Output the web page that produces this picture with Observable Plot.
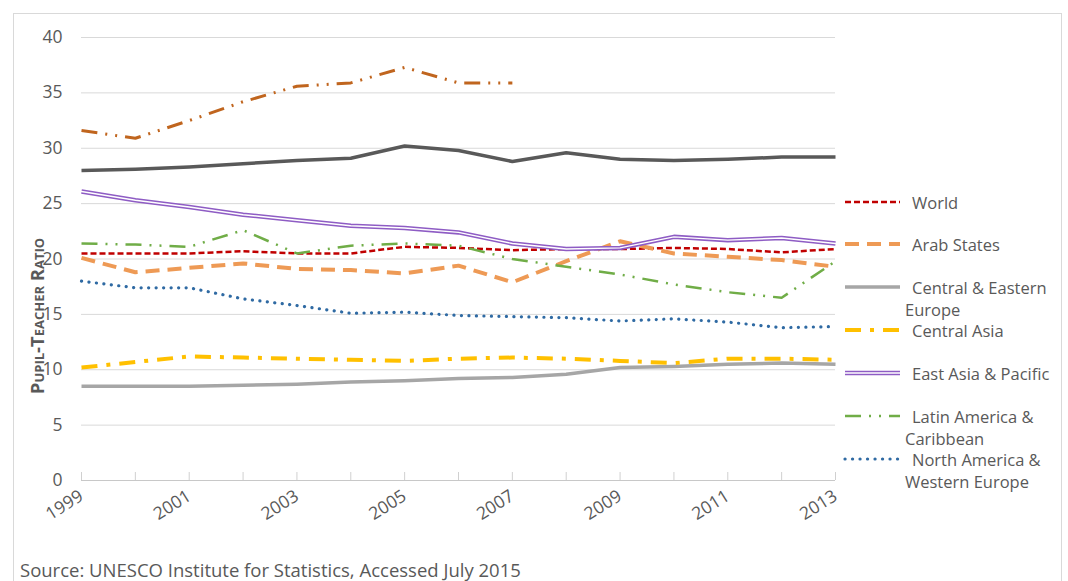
<!DOCTYPE html>
<html>
<head>
<meta charset="utf-8">
<script src="https://cdn.jsdelivr.net/npm/d3@7"></script>
<script src="https://cdn.jsdelivr.net/npm/@observablehq/plot@0.6"></script>
<style>
  body { margin: 0; background: #fff; font-family: "Open Sans", sans-serif; }
  #wrap { position: relative; width: 1068px; height: 581px; overflow: hidden; background: #fff; }
  #border { position: absolute; left: 13px; top: 13px; width: 1049px; height: 620px; border: 1px solid #D9D9D9; box-sizing: border-box; }
  #chart { position: absolute; left: 0; top: 0; }
  .leg { position: absolute; left: 843px; color: #595959; font-size: 16.5px; line-height: 22px; }
  .leg svg { position: absolute; left: 0; top: 0; }
  .leg .txt { position: absolute; left: 62px; top: 0; white-space: nowrap; }
  .leg .first { padding-left: 7px; }
  #source { position: absolute; left: 20px; top: 558px; font-size: 18.5px; line-height: 24px; color: #595959; white-space: nowrap; }
</style>
</head>
<body>
<div id="wrap">
  <div id="border"></div>
  <div id="chart"></div>
  <div id="legend"></div>
  <div id="source">Source: UNESCO Institute for Statistics, Accessed July 2015</div>
</div>
<script>
// ---- data ----
const years = [1999, 2000, 2001, 2002, 2003, 2004, 2005, 2006, 2007, 2008, 2009, 2010, 2011, 2012, 2013];
const labelYears = [1999, 2001, 2003, 2005, 2007, 2009, 2011, 2013];
const yTicks = [0, 5, 10, 15, 20, 25, 30, 35, 40];
const yLabel = "Pupil-Teacher Ratio";

const world               = [20.5, 20.5, 20.5, 20.7, 20.5, 20.5, 21.1, 21.0, 20.8, 20.9, 20.9, 21.0, 20.9, 20.6, 20.9];
const arabStates          = [20.1, 18.8, 19.2, 19.6, 19.1, 19.0, 18.7, 19.4, 17.9, 19.8, 21.6, 20.5, 20.2, 19.9, 19.3];
const centralEastEurope   = [8.5, 8.5, 8.5, 8.6, 8.7, 8.9, 9.0, 9.2, 9.3, 9.6, 10.2, 10.3, 10.5, 10.6, 10.5];
const centralAsia         = [10.2, 10.7, 11.2, 11.1, 11.0, 10.9, 10.8, 11.0, 11.1, 11.0, 10.8, 10.6, 11.0, 11.0, 10.9];
const eastAsiaPacific     = [26.1, 25.3, 24.7, 24.0, 23.5, 23.0, 22.8, 22.4, 21.4, 20.9, 21.0, 22.0, 21.7, 21.9, 21.4];
const latinAmerica        = [21.4, 21.3, 21.1, 22.6, 20.5, 21.2, 21.4, 21.2, 20.0, 19.3, 18.6, 17.7, 17.0, 16.5, 19.8];
const northAmericaWEurope = [18.0, 17.4, 17.4, 16.4, 15.8, 15.1, 15.2, 14.9, 14.8, 14.7, 14.4, 14.6, 14.3, 13.8, 13.9];
const southWestAsia       = [28.0, 28.1, 28.3, 28.6, 28.9, 29.1, 30.2, 29.8, 28.8, 29.6, 29.0, 28.9, 29.0, 29.2, 29.2];
const subSaharanAfrica    = [31.6, 30.9, 32.5, 34.2, 35.6, 35.9, 37.3, 35.9, 35.9]; // 1999-2007

const seriesNames = ["World", "Arab States", "Central & Eastern Europe", "Central Asia", "East Asia & Pacific",
  "Latin America & Caribbean", "North America & Western Europe", "South & West Asia", "Sub-Saharan Africa"];
const seriesValues = [world, arabStates, centralEastEurope, centralAsia, eastAsiaPacific,
  latinAmerica, northAmericaWEurope, southWestAsia, subSaharanAfrica];

// ---- styles ----
const styles = [
  {stroke: "#C00000", width: 2.5, dash: "6,3", cap: "butt"},
  {stroke: "#EE9A55", width: 4, dash: "14,8", cap: "butt"},
  {stroke: "#A6A6A6", width: 3.5, dash: null, cap: "butt"},
  {stroke: "#FFC000", width: 4, dash: "16,9,4,9", cap: "butt"},
  {stroke: "#8E5CC4", width: 4.5, dash: null, cap: "butt", double: true},
  {stroke: "#70AD47", width: 2.5, dash: "16,8,2,8,2,8", cap: "butt"},
  {stroke: "#2F6AA3", width: 3.2, dash: "0.1,7.4", cap: "round"},
  {stroke: "#595959", width: 3.5, dash: null, cap: "butt"},
  {stroke: "#C0651E", width: 3, dash: "16,8,2,8,2,8", cap: "butt"}
];
const legendLines = [["World"], ["Arab States"], ["Central & Eastern", "Europe"], ["Central Asia"],
  ["East Asia & Pacific"], ["Latin America &", "Caribbean"], ["North America &", "Western Europe"]];
const legendY = [203, 245, 288, 331, 374, 417, 460];

const table = seriesNames.flatMap((name, i) =>
  seriesValues[i].map((v, j) => ({series: name, year: years[j], value: v})));

const plotTop = 37, plotBottom = 480, svgH = 545;
const lineMarks = [];
seriesNames.forEach((name, i) => {
  const s = styles[i];
  const data = table.filter(d => d.series === name);
  lineMarks.push(Plot.line(data, {x: "year", y: "value", stroke: s.stroke, strokeWidth: s.width,
    strokeDasharray: s.dash, strokeLinecap: s.cap, strokeLinejoin: "round"}));
  if (s.double) {
    lineMarks.push(Plot.line(data, {x: "year", y: "value", stroke: "#fff", strokeWidth: 1.4, strokeLinejoin: "round"}));
  }
});

const chart = Plot.plot({
  width: 1068, height: svgH,
  marginLeft: 81, marginRight: 233, marginTop: plotTop, marginBottom: svgH - plotBottom,
  style: {fontFamily: "'Open Sans', sans-serif", fontSize: "17.5px", color: "#595959", background: "transparent", overflow: "visible"},
  x: {domain: [1999, 2013], ticks: labelYears, tickFormat: d => String(d), tickSize: 0, tickPadding: 14, tickRotate: -32, label: null},
  y: {domain: [0, 40], ticks: yTicks, tickSize: 0, tickPadding: 19, label: null},
  marks: [
    Plot.ruleY(yTicks.filter(v => v > 0), {stroke: "#D9D9D9", strokeWidth: 1}),
    Plot.ruleY([0], {stroke: "#C8C8C8", strokeWidth: 1}),
    Plot.tickX(years, {x: d => d, stroke: "#D0D0D0", insetTop: (plotBottom - plotTop) - 8}),
    ...lineMarks,
    Plot.text([yLabel], {text: d => d, frameAnchor: "left", textAnchor: "middle", lineAnchor: "middle",
      rotate: -90, dx: -43, dy: 57, fontVariant: "small-caps",
      fontWeight: "bold", fontSize: 18.5, fill: "#595959"})
  ]
});
document.getElementById("chart").appendChild(chart);

// ---- legend ----
const legend = document.getElementById("legend");
legendLines.forEach((lines, i) => {
  const s = styles[i];
  const div = document.createElement("div");
  div.className = "leg";
  div.style.top = (legendY[i] - 11) + "px";
  const ns = "http://www.w3.org/2000/svg";
  const svg = document.createElementNS(ns, "svg");
  svg.setAttribute("width", 60); svg.setAttribute("height", 22);
  const mk = (stroke, w, dash, cap) => {
    const l = document.createElementNS(ns, "line");
    l.setAttribute("x1", 2); l.setAttribute("x2", 57); l.setAttribute("y1", 10); l.setAttribute("y2", 10);
    l.setAttribute("stroke", stroke); l.setAttribute("stroke-width", w);
    if (dash) l.setAttribute("stroke-dasharray", dash);
    l.setAttribute("stroke-linecap", cap);
    svg.appendChild(l);
  };
  mk(s.stroke, s.width, s.dash, s.cap);
  if (s.double) mk("#fff", 1.4, null, "butt");
  div.appendChild(svg);
  const t = document.createElement("div");
  t.className = "txt";
  lines.forEach((l, k) => {
    const sp = document.createElement("div");
    if (k === 0) sp.className = "first";
    sp.textContent = l;
    t.appendChild(sp);
  });
  div.appendChild(t);
  legend.appendChild(div);
});
</script>
</body>
</html>
